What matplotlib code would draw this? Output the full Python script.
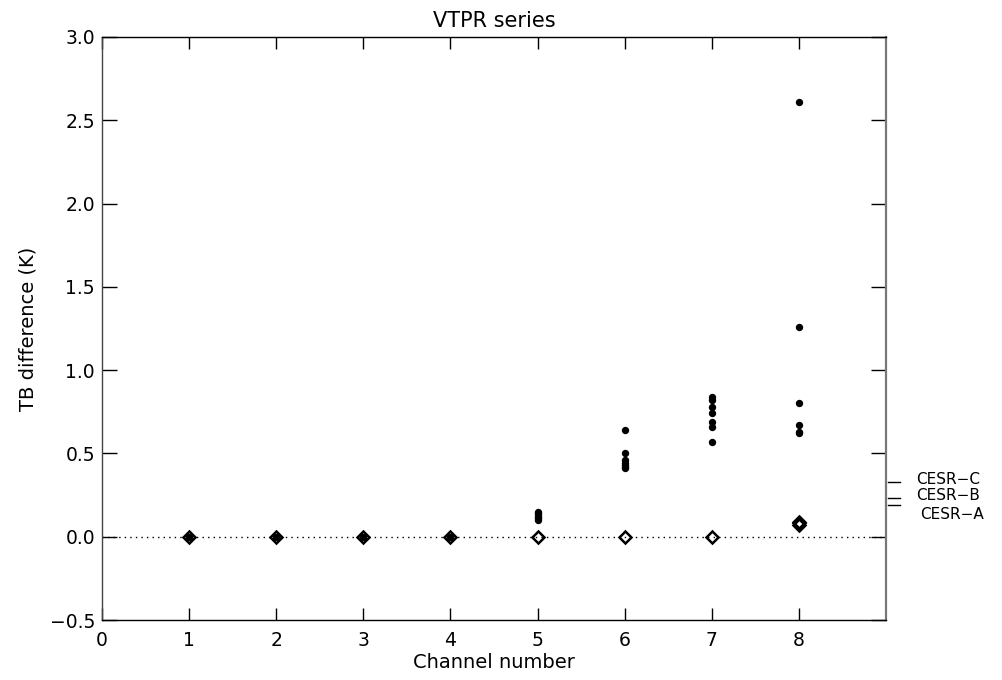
import matplotlib
matplotlib.use("Agg")
import matplotlib.pyplot as plt
import matplotlib.transforms as mtransforms

# ---- data ----
channels = [1, 2, 3, 4, 5, 6, 7, 8]
circle_values = [
    [0.0],
    [0.0],
    [0.0],
    [0.0],
    [0.15, 0.14, 0.13, 0.12, 0.11, 0.10],
    [0.64, 0.50, 0.46, 0.44, 0.43, 0.42, 0.41],
    [0.84, 0.82, 0.78, 0.74, 0.69, 0.66, 0.57],
    [2.61, 1.26, 0.80, 0.67, 0.63, 0.62],
]
diamond_values = [
    [0.0],
    [0.0],
    [0.0],
    [0.0],
    [0.0],
    [0.0],
    [0.0],
    [0.07, 0.08, 0.09],
]
cesr_names = ["CESR-C", "CESR-B", "CESR-A"]
cesr_values = [0.33, 0.235, 0.19]
cesr_text_y = [0.345, 0.245, 0.135]
xticks = [0, 1, 2, 3, 4, 5, 6, 7, 8]
yticks = [-0.5, 0.0, 0.5, 1.0, 1.5, 2.0, 2.5, 3.0]

plt.rcParams['font.family'] = ['DejaVu Sans']
FS = 13.5

fig = plt.figure(figsize=(10.03, 6.80), dpi=100)
ax = fig.add_axes([102/1003, 60/680, 784/1003, 583/680])

ax.axhline(0.0, color='black', lw=1.0, ls=(0, (1, 3)), zorder=1)

for ch, vals in zip(channels, circle_values):
    ax.plot([ch]*len(vals), vals, 'o', color='black', ms=5.3, mew=0, zorder=3)
for ch, vals in zip(channels, diamond_values):
    ax.plot([ch]*len(vals), vals, 'D', mfc='none', mec='black', ms=6.2, mew=1.8, zorder=4)

ax.set_xlim(0, 9)
ax.set_ylim(-0.5, 3.0)
ax.set_xticks(xticks)
ax.set_xticklabels([str(t) for t in xticks])
ax.set_yticks(yticks)
ax.set_yticklabels(['\u22120.5' if t < 0 else f"{t:.1f}" for t in yticks])

ax.tick_params(axis='x', direction='in', length=8.5, width=1, top=True,
               labelsize=FS, pad=8)
ax.tick_params(axis='y', direction='in', length=11, width=1, right=True,
               labelsize=FS, pad=5)
for sp in ax.spines.values():
    sp.set_linewidth(1.0)
    sp.set_color('black')
ax.spines['left'].set_color('#444444')
ax.spines['right'].set_color('#777777')
ax.spines['right'].set_linewidth(1.6)

ax.set_title("VTPR series", fontsize=15, pad=7)
ax.set_xlabel("Channel number", fontsize=14, labelpad=2)
ax.set_ylabel("TB difference (K)", fontsize=14, labelpad=9)

trans = mtransforms.blended_transform_factory(ax.transAxes, ax.transData)
for name, v, ty in zip(cesr_names, cesr_values, cesr_text_y):
    ax.plot([1.0026, 1.018], [v, v], color='black', lw=1.0, transform=trans,
            clip_on=False)
    xoff = 1.0383 if name != "CESR-A" else 1.0433
    ax.text(xoff, ty, name.replace('-', '\u2212'), transform=trans,
            fontsize=11, va='center', ha='left')

fig.savefig("out.png", dpi=100)
